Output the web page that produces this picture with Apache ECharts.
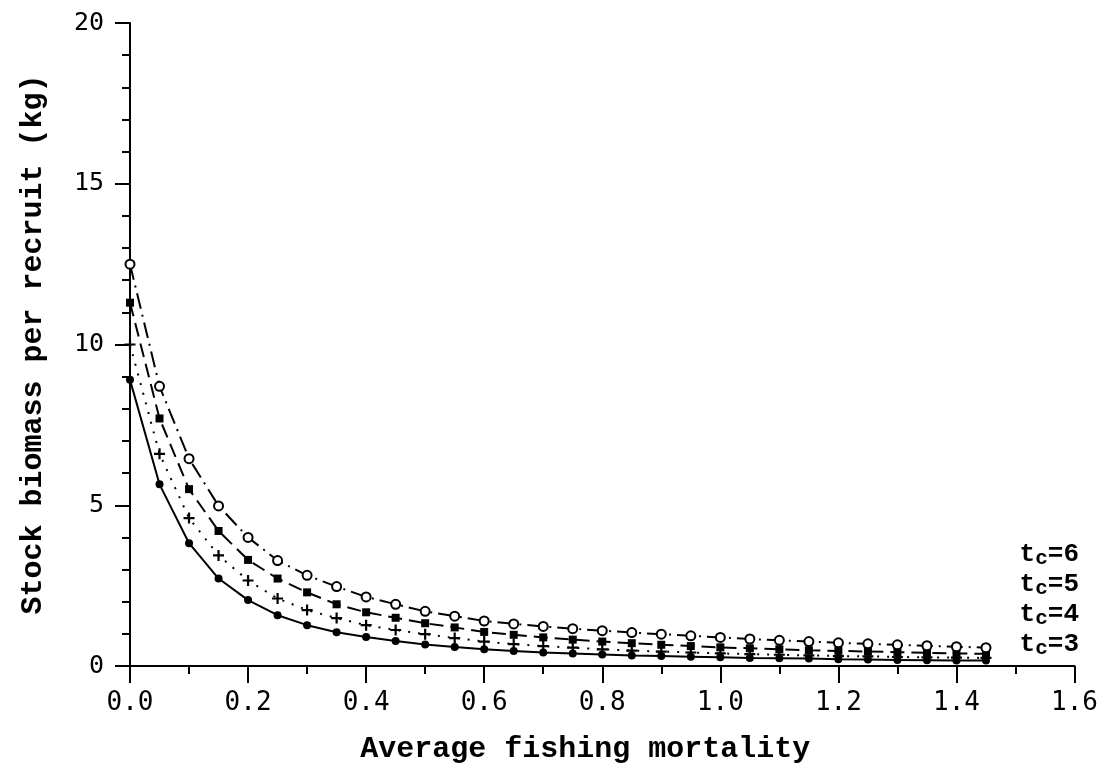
<!DOCTYPE html>
<html>
<head>
<meta charset="utf-8">
<script src="https://cdn.jsdelivr.net/npm/echarts@6/dist/echarts.min.js"></script>
<style>
  html, body { margin: 0; padding: 0; background: #fff; }
  #main { width: 1101px; height: 769px; }
</style>
</head>
<body>
<div id="main"></div>
<script>
  // fishing mortality F, one point every 0.05
  const fValues = [0, 0.05, 0.1, 0.15, 0.2, 0.25, 0.3, 0.35, 0.4, 0.45, 0.5, 0.55, 0.6, 0.65, 0.7,
    0.75, 0.8, 0.85, 0.9, 0.95, 1.0, 1.05, 1.1, 1.15, 1.2, 1.25, 1.3, 1.35, 1.4, 1.45];

  const tc3 = [8.9, 5.65, 3.82, 2.72, 2.05, 1.58, 1.27, 1.05, 0.9, 0.78, 0.67, 0.59, 0.52, 0.47, 0.42,
    0.39, 0.36, 0.33, 0.31, 0.29, 0.27, 0.25, 0.24, 0.23, 0.21, 0.2, 0.19, 0.18, 0.17, 0.17];
  const tc4 = [10.0, 6.6, 4.6, 3.44, 2.66, 2.1, 1.74, 1.49, 1.27, 1.12, 0.99, 0.87, 0.76, 0.68, 0.62,
    0.57, 0.52, 0.48, 0.45, 0.42, 0.39, 0.37, 0.35, 0.33, 0.31, 0.3, 0.28, 0.27, 0.26, 0.25];
  const tc5 = [11.3, 7.7, 5.5, 4.2, 3.3, 2.72, 2.29, 1.92, 1.67, 1.5, 1.33, 1.2, 1.06, 0.97, 0.89,
    0.82, 0.76, 0.71, 0.66, 0.62, 0.58, 0.55, 0.52, 0.49, 0.47, 0.45, 0.43, 0.41, 0.39, 0.38];
  const tc6 = [12.5, 8.7, 6.45, 4.98, 4.0, 3.28, 2.82, 2.47, 2.15, 1.92, 1.7, 1.55, 1.4, 1.31, 1.23,
    1.16, 1.1, 1.04, 0.99, 0.94, 0.89, 0.84, 0.8, 0.76, 0.72, 0.69, 0.66, 0.63, 0.6, 0.57];

  const curveLabels = ['6', '5', '4', '3'];

  const pair = (ys) => fValues.map((f, i) => [f, ys[i]]);
  const plus = 'path://M4 0h2v4h4v2h-4v4h-2v-4h-4v-2h4z';

  const titleFont = 'Liberation Mono, Courier New, monospace';
  const tickFont = 'DejaVu Sans Mono, monospace';

  const chart = echarts.init(document.getElementById('main'), null, { renderer: 'canvas' });

  const option = {
    backgroundColor: '#fff',
    animation: false,
    grid: { left: 130, right: 26, top: 23, bottom: 102 },
    xAxis: {
      type: 'value',
      min: 0,
      max: 1.6,
      interval: 0.2,
      name: 'Average fishing mortality',
      nameLocation: 'middle',
      nameGap: 68,
      nameTextStyle: {
        fontFamily: titleFont, fontWeight: 'bold', fontSize: 30, color: '#000',
        padding: [0, 34, 0, 0]
      },
      axisLine: { lineStyle: { color: '#000', width: 2 } },
      axisTick: { inside: false, length: 17, lineStyle: { color: '#000', width: 2 } },
      minorTick: { show: true, splitNumber: 2, length: 8, lineStyle: { color: '#000', width: 2 } },
      splitLine: { show: false },
      axisLabel: {
        margin: 24, color: '#000', fontFamily: tickFont, fontSize: 26,
        formatter: (v) => v.toFixed(1)
      }
    },
    yAxis: {
      type: 'value',
      min: 0,
      max: 20,
      interval: 5,
      name: 'Stock biomass per recruit (kg)',
      nameLocation: 'middle',
      nameGap: 82,
      nameTextStyle: { fontFamily: titleFont, fontWeight: 'bold', fontSize: 30, color: '#000' },
      axisLine: { show: true, lineStyle: { color: '#000', width: 2 } },
      axisTick: { show: true, inside: false, length: 15, lineStyle: { color: '#000', width: 2 } },
      minorTick: { show: true, splitNumber: 5, length: 8, lineStyle: { color: '#000', width: 2 } },
      splitLine: { show: false },
      axisLabel: { margin: 26, color: '#000', fontFamily: tickFont, fontSize: 25 }
    },
    graphic: curveLabels.map((c, i) => ({
      type: 'text',
      right: 22,
      top: 541 + i * 30,
      style: {
        text: '{t|t}{s|c}{t|=' + c + '}',
        rich: {
          t: { fontFamily: titleFont, fontWeight: 'bold', fontSize: 26, fill: '#000' },
          s: { fontFamily: titleFont, fontWeight: 'bold', fontSize: 21, fill: '#000', padding: [10, 0, 0, 0] }
        }
      }
    })),
    series: [
      {
        name: 'tc=3', type: 'line', data: pair(tc3),
        symbol: 'circle', symbolSize: 8,
        itemStyle: { color: '#000' },
        lineStyle: { color: '#000', width: 2 }
      },
      {
        name: 'tc=4', type: 'line', data: pair(tc4),
        symbol: plus, symbolSize: 11,
        itemStyle: { color: '#000' },
        lineStyle: { color: '#000', width: 2, type: [2, 8] }
      },
      {
        name: 'tc=5', type: 'line', data: pair(tc5),
        symbol: 'rect', symbolSize: 8,
        itemStyle: { color: '#000' },
        lineStyle: { color: '#000', width: 2, type: [14, 7] }
      },
      {
        name: 'tc=6', type: 'line', data: pair(tc6),
        symbol: 'emptyCircle', symbolSize: 9,
        itemStyle: { color: '#000', borderWidth: 2.5 },
        lineStyle: { color: '#000', width: 2, type: [16, 6, 2, 6] }
      }
    ]
  };

  chart.setOption(option);
</script>
</body>
</html>
